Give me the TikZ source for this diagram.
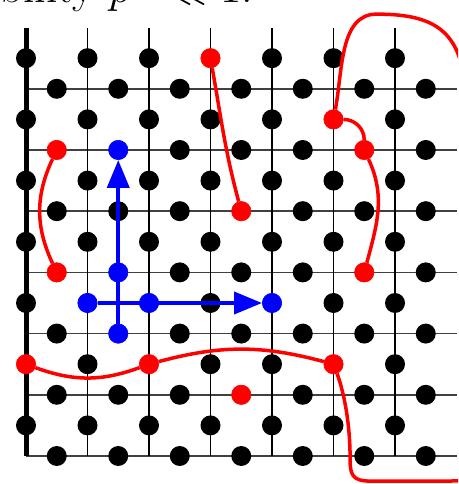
\RequirePackage{fix-cm}
\documentclass[tikz,border=0pt]{standalone}
\usetikzlibrary{arrows.meta}
\tikzset{
  dot/.style={circle, fill=black, inner sep=0pt, minimum size=20pt},
  reddot/.style={fill=red, draw=red, line width=0.6pt, minimum size=19.4pt},
  bluedot/.style={fill=blue, draw=blue, line width=0.6pt, minimum size=19.4pt},
  gridv/.style={line width=1.4pt, black},
  gridh/.style={line width=1.5pt, black!75},
  edgeline/.style={line width=5pt, black},
  redline/.style={red, line width=3.5pt},
  blueline/.style={blue, line width=4pt, -{Triangle[length=28pt,width=22pt]}},
  cv-3-6/.style={reddot}, cv-5-5/.style={reddot}, cv-0-1/.style={reddot},
  cv-2-1/.style={reddot}, cv-5-1/.style={reddot},
  cv-1-2/.style={bluedot}, cv-2-2/.style={bluedot}, cv-4-2/.style={bluedot},
  ch-0-5/.style={reddot}, ch-3-4/.style={reddot}, ch-5-5/.style={reddot},
  ch-0-3/.style={reddot}, ch-5-3/.style={reddot}, ch-3-1/.style={reddot},
  ch-1-5/.style={bluedot}, ch-1-3/.style={bluedot}, ch-1-2/.style={bluedot},
}
\begin{document}
\begin{tikzpicture}[x=1pt,y=1pt]
\useasboundingbox (0,0) rectangle (458,484);
\clip (0,0) rectangle (458,484);
\node[anchor=base east, font=\fontsize{46}{52}\selectfont, inner sep=0pt] (cap) at (253,481) {with probability $p\hspace{17pt}\ll 1$.};
\begin{scope}[shift={(26pt,28pt)}, x=61.5pt, y=61.2pt]
  % grid
  \foreach \j in {0,...,6} \draw[gridh] (0,\j) -- (7,\j);
  \foreach \i in {1,...,6} \draw[gridv] (\i,0) -- (\i,7);
  \draw[edgeline] (0,0) -- (0,7);
  % dots
  \foreach \i in {0,...,6} {
    \foreach \j in {0,...,6} {
      \node[dot, cv-\i-\j/.try] (v-\i-\j) at (\i,\j+0.5) {};
      \node[dot, ch-\i-\j/.try] (h-\i-\j) at (\i+0.5,\j) {};
    }
  }
  % blue arrows
  \draw[blueline] (h-1-2) -- (h-1-5);
  \draw[blueline] (v-1-2) -- (v-4-2);
  % red strings
  \draw[redline] (v-3-6) to[out=-80, in=105] (h-3-4);
  \draw[redline] (h-0-5) to[out=-115, in=115] (h-0-3);
  \draw[redline] (v-5-5) to[out=0, in=90] (h-5-5);
  \draw[redline] (h-5-5) to[out=-65, in=75] (h-5-3);
  \draw[redline] (v-0-1) to[out=-20, in=-160] (v-2-1);
  \draw[redline] (v-2-1) to[out=15, in=165] (v-5-1);
  \draw[redline] (v-5-5) .. controls (5.15,6.3) and (5.1,7.22) .. (5.7,7.22)
     .. controls (6.55,7.22) and (7.0,7.0) .. (7.12,6.2)
     .. controls (7.3,5) and (7.4,0) .. (7.4,-0.2)
     .. controls (7.4,-0.41) .. (6.5,-0.41) -- (5.6,-0.41)
     .. controls (5.3,-0.41) and (5.27,-0.3) .. (5.27,-0.05)
     .. controls (5.27,0.6) and (5.15,1.1) .. (v-5-1);
\end{scope}
\end{tikzpicture}
\end{document}
